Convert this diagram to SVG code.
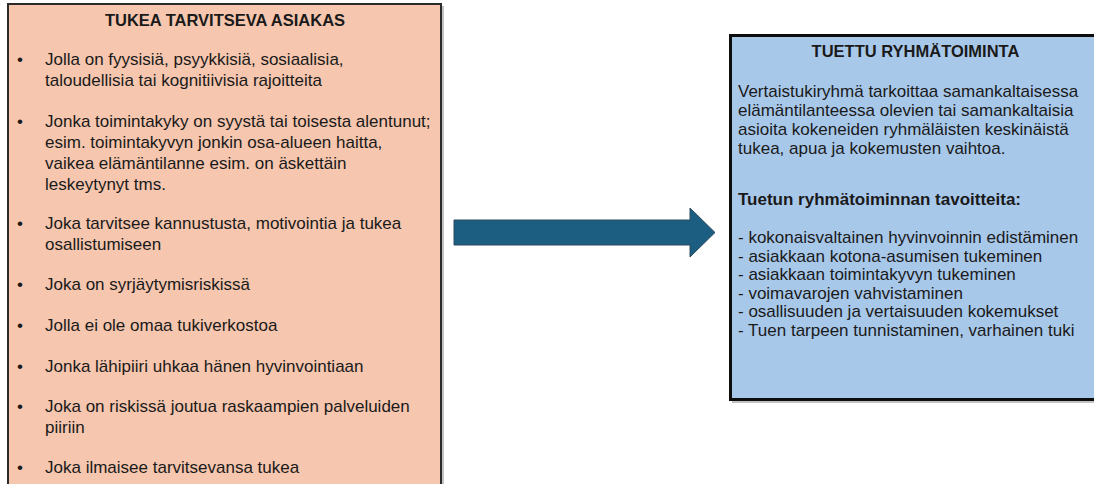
<svg xmlns="http://www.w3.org/2000/svg" width="1094" height="484" viewBox="0 0 1094 484">
<defs>
<style>
.t{font-family:"Liberation Sans",Arial,sans-serif;font-size:17px;fill:#1a1a1a}
.h{font-family:"Liberation Sans",Arial,sans-serif;font-size:16.5px;font-weight:bold;fill:#1a1a1a;text-anchor:middle}
.b{font-weight:bold}
.bul{text-anchor:middle}
</style>
</defs>
<rect width="1094" height="484" fill="#ffffff"/>
<g id="node-asiakas">
<rect x="10" y="6" width="434" height="490" fill="#9a9a9a" opacity="0.6"/>
<rect x="8" y="4" width="433" height="490" fill="#F6C6AE" stroke="#2b2b2b" stroke-width="2"/>
<text class="h" x="225" y="26">TUKEA TARVITSEVA ASIAKAS</text>
<g class="t">
<text class="t bul" x="20" y="65">•</text>
<text class="t" x="45" y="65">Jolla on fyysisiä, psyykkisiä, sosiaalisia,</text>
<text class="t" x="45" y="86">taloudellisia tai kognitiivisia rajoitteita</text>
<text class="t bul" x="20" y="127">•</text>
<text class="t" x="45" y="127">Jonka toimintakyky on syystä tai toisesta alentunut;</text>
<text class="t" x="45" y="148">esim. toimintakyvyn jonkin osa-alueen haitta,</text>
<text class="t" x="45" y="169">vaikea elämäntilanne esim. on äskettäin</text>
<text class="t" x="45" y="190">leskeytynyt tms.</text>
<text class="t bul" x="20" y="229">•</text>
<text class="t" x="45" y="229">Joka tarvitsee kannustusta, motivointia ja tukea</text>
<text class="t" x="45" y="250">osallistumiseen</text>
<text class="t bul" x="20" y="290">•</text>
<text class="t" x="45" y="290">Joka on syrjäytymisriskissä</text>
<text class="t bul" x="20" y="331">•</text>
<text class="t" x="45" y="331">Jolla ei ole omaa tukiverkostoa</text>
<text class="t bul" x="20" y="372">•</text>
<text class="t" x="45" y="372">Jonka lähipiiri uhkaa hänen hyvinvointiaan</text>
<text class="t bul" x="20" y="412">•</text>
<text class="t" x="45" y="412">Joka on riskissä joutua raskaampien palveluiden</text>
<text class="t" x="45" y="433">piiriin</text>
<text class="t bul" x="20" y="473">•</text>
<text class="t" x="45" y="473">Joka ilmaisee tarvitsevansa tukea</text>
</g>
</g>
<g id="connectors">
<path d="M454,220 H690 V208 L715,232.5 L690,257 V245 H454 Z" fill="#1B5E81" stroke="#2C4A5C" stroke-width="1"/>
</g>
<g id="node-ryhmatoiminta">
<rect x="732" y="37" width="370" height="366" fill="#9a9a9a" opacity="0.6"/>
<rect x="730.5" y="35.5" width="370" height="364" fill="#A8C8EA" stroke="#0d0d0d" stroke-width="3"/>
<text class="h" x="915.5" y="57">TUETTU RYHMÄTOIMINTA</text>
<text class="t" x="738" y="97">Vertaistukiryhmä tarkoittaa samankaltaisessa</text>
<text class="t" x="738" y="116">elämäntilanteessa olevien tai samankaltaisia</text>
<text class="t" x="738" y="135">asioita kokeneiden ryhmäläisten keskinäistä</text>
<text class="t" x="738" y="154">tukea, apua ja kokemusten vaihtoa.</text>
<text class="t b" x="738" y="205">Tuetun ryhmätoiminnan tavoitteita:</text>
<text class="t" x="738" y="243">- kokonaisvaltainen hyvinvoinnin edistäminen</text>
<text class="t" x="738" y="261.5">- asiakkaan kotona-asumisen tukeminen</text>
<text class="t" x="738" y="280">- asiakkaan toimintakyvyn tukeminen</text>
<text class="t" x="738" y="298.5">- voimavarojen vahvistaminen</text>
<text class="t" x="738" y="317">- osallisuuden ja vertaisuuden kokemukset</text>
<text class="t" x="738" y="335.5">- Tuen tarpeen tunnistaminen, varhainen tuki</text>
</g>
</svg>
